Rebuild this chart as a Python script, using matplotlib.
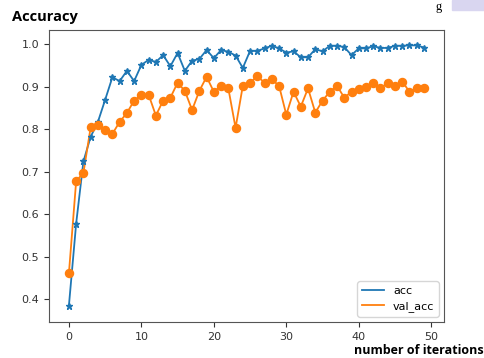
import matplotlib.pyplot as plt
import matplotlib.patches as mpatches

# accuracy per iteration
acc = [0.385, 0.578, 0.724, 0.782, 0.817, 0.869, 0.922, 0.913, 0.937, 0.913,
       0.951, 0.963, 0.958, 0.974, 0.948, 0.979, 0.937, 0.961, 0.965, 0.986,
       0.967, 0.986, 0.982, 0.973, 0.944, 0.984, 0.984, 0.990, 0.996, 0.990,
       0.980, 0.983, 0.969, 0.969, 0.988, 0.983, 0.996, 0.996, 0.993, 0.974,
       0.990, 0.990, 0.995, 0.991, 0.991, 0.996, 0.996, 0.997, 0.997, 0.992]
val_acc = [0.461, 0.678, 0.697, 0.804, 0.810, 0.799, 0.789, 0.817, 0.838, 0.867,
           0.881, 0.881, 0.832, 0.867, 0.874, 0.909, 0.890, 0.845, 0.890, 0.923,
           0.888, 0.902, 0.896, 0.803, 0.902, 0.909, 0.925, 0.909, 0.917, 0.902,
           0.834, 0.888, 0.853, 0.896, 0.839, 0.867, 0.888, 0.902, 0.874, 0.888,
           0.894, 0.899, 0.909, 0.896, 0.909, 0.902, 0.912, 0.888, 0.896, 0.896]
iterations = list(range(len(acc)))

fig = plt.figure(figsize=(4.85, 3.58), dpi=100)
ax = fig.add_axes([0.101, 0.100, 0.815, 0.816])

# lines carry the legend labels, markers are drawn on top without labels
ax.plot(iterations, acc, color='tab:blue', linewidth=1.3, label='acc')
ax.plot(iterations, val_acc, color='tab:orange', linewidth=1.3, label='val_acc')
ax.plot(iterations, acc, '*', color='tab:blue', markersize=5)
ax.plot(iterations, val_acc, 'o', color='tab:orange', markersize=5.8)

ax.set_xlim(-2.75, 51.8)
ax.set_ylim(0.346, 1.033)
ax.set_xticks([0, 10, 20, 30, 40, 50])
ax.set_yticks([0.4, 0.5, 0.6, 0.7, 0.8, 0.9, 1.0])
ax.tick_params(labelsize=8, colors='#333333')
for s in ax.spines.values():
    s.set_color('#555555')

ax.legend(loc='lower right', fontsize=8)

# axis captions placed like in the screenshot
fig.text(0.025, 0.94, 'Accuracy', fontsize=10.5, fontweight='bold', family='Open Sans')
fig.text(0.997, 0.012, 'number of iterations', fontsize=9, fontweight='bold',
         family='Open Sans', ha='right')

# bits of the surrounding page visible in the corner
fig.text(0.905, 0.997, 'g', fontsize=9, family='Liberation Serif', va='top', ha='center')
fig.patches.append(mpatches.Rectangle((0.932, 0.972), 0.068, 0.028,
                                      transform=fig.transFigure, color='#d9d6f0'))

fig.savefig('out.png', dpi=100)
